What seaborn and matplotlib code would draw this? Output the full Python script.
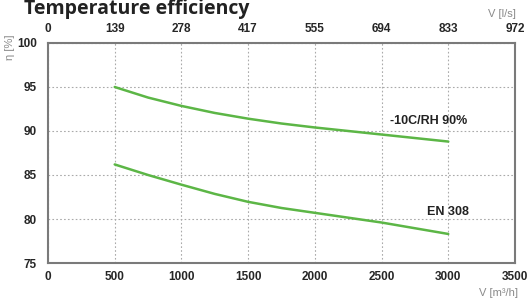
import pandas as pd
import matplotlib.pyplot as plt
import seaborn as sns

# curve data
flow_m3h = [500, 750, 1000, 1250, 1500, 1750, 2000, 2250, 2500, 2750, 3000]
eff_rh90 = [95.0, 93.8, 92.85, 92.05, 91.4, 90.85, 90.4, 90.0, 89.6, 89.2, 88.8]
eff_en308 = [86.2, 85.0, 83.9, 82.85, 81.95, 81.25, 80.7, 80.15, 79.6, 78.95, 78.3]

series_names = ["-10C/RH 90%", "EN 308"]
bottom_ticks = [0, 500, 1000, 1500, 2000, 2500, 3000, 3500]
top_labels = ["0", "139", "278", "417", "555", "694", "833", "972"]
y_ticks = [75, 80, 85, 90, 95, 100]

LINE_GREEN = "#5cb646"
SPINE_GREY = "#7a7a7a"
LABEL_GREY = "#8a8a8a"

df = pd.DataFrame({
    "flow": flow_m3h * 2,
    "eff": eff_rh90 + eff_en308,
    "series": [series_names[0]] * len(flow_m3h) + [series_names[1]] * len(flow_m3h),
})

sns.set_style("white")
plt.rcParams["font.family"] = ["Liberation Sans", "DejaVu Sans"]

fig = plt.figure(figsize=(5.27, 3.05), dpi=100)
ax = fig.add_axes([48 / 527, 1 - 263 / 305, 467 / 527, 220 / 305])

sns.lineplot(
    data=df, x="flow", y="eff", hue="series",
    palette=[LINE_GREEN, LINE_GREEN], linewidth=1.8,
    legend=False, ax=ax
)

ax.set_xlim(0, 3500)
ax.set_ylim(75, 100)
ax.set_xticks(bottom_ticks)
ax.set_yticks(y_ticks)
ax.set_xlabel("")
ax.set_ylabel("")
ax.grid(True, linestyle=(0, (1.5, 2)), color="#aaaaaa", linewidth=0.8)
ax.tick_params(length=0, labelsize=8.5)
ax.tick_params(axis="x", pad=6)
ax.tick_params(axis="y", pad=8)
for lbl in ax.get_xticklabels() + ax.get_yticklabels():
    lbl.set_fontweight("bold")
for side in ["left", "bottom", "top", "right"]:
    ax.spines[side].set_color(SPINE_GREY)
    ax.spines[side].set_linewidth(1.5)

top = ax.twiny()
top.set_xlim(ax.get_xlim())
top.set_xticks(bottom_ticks)
top.set_xticklabels(top_labels, fontweight="bold")
top.tick_params(length=0, labelsize=8.5, pad=6)
for side in top.spines:
    top.spines[side].set_visible(False)

label_font = ["Liberation Sans Narrow", "Liberation Sans", "DejaVu Sans"]
ax.text(2856, 91.1, series_names[0], ha="center", va="center",
        fontsize=9, fontweight="bold", family=label_font, color="#222222")
ax.text(2995, 80.85, series_names[1], ha="center", va="center",
        fontsize=9, fontweight="bold", family=label_font, color="#222222")

fig.text(24 / 527, 1 - 14 / 305, "Temperature efficiency", ha="left", va="baseline",
         fontsize=14, fontweight="bold", family=["Open Sans", "DejaVu Sans"], color="#222222")
fig.text(10 / 527, 1 - 47 / 305, "η [%]", ha="center", va="center", rotation=90,
         fontsize=8, color=LABEL_GREY)
fig.text(516 / 527, 1 - 14 / 305, "V [l/s]", ha="right", va="center",
         fontsize=8, color=LABEL_GREY)
fig.text(518 / 527, 1 - 293 / 305, "V [m³/h]", ha="right", va="center",
         fontsize=8, color=LABEL_GREY)

fig.savefig("out.png", dpi=100)
plt.close(fig)
